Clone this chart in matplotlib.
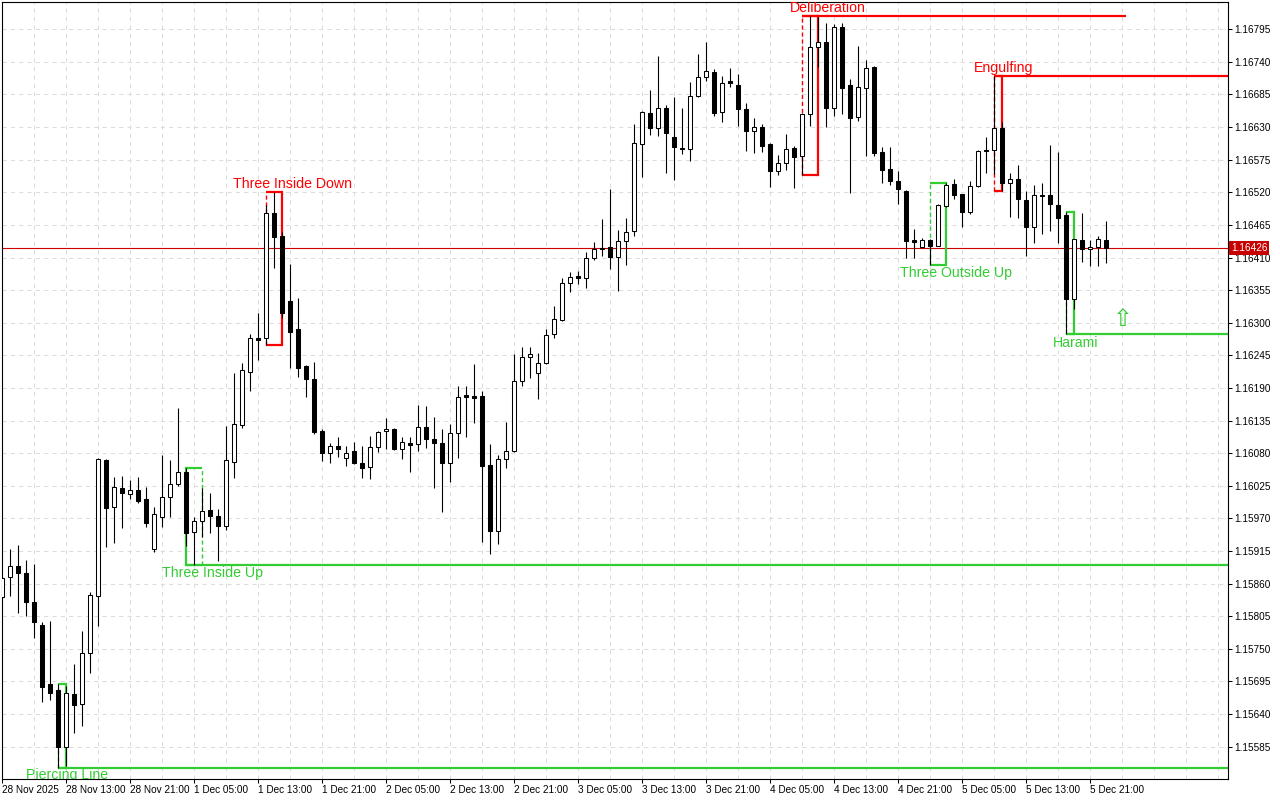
import numpy as np
import matplotlib
matplotlib.use("Agg")
import matplotlib.pyplot as plt
import matplotlib.transforms as mtransforms

# H1 candles, 28 Nov 2025 05:00 .. 5 Dec 2025 23:00
opens = [
    1.15838, 1.15871, 1.15890, 1.15878, 1.15829, 1.15790, 1.15691, 1.15681, 1.15584, 1.15674,
    1.15657, 1.15743, 1.15839, 1.16069, 1.15989, 1.16021, 1.16011, 1.16018, 1.16003, 1.15918,
    1.15972, 1.16006, 1.16028, 1.16048, 1.15947, 1.15966, 1.15984, 1.15974, 1.15957, 1.16065,
    1.16128, 1.16217, 1.16274, 1.16274, 1.16485, 1.16446, 1.16337, 1.16290, 1.16227, 1.16205,
    1.16117, 1.16080, 1.16092, 1.16072, 1.16084, 1.16063, 1.16057, 1.16090, 1.16117, 1.16121,
    1.16087, 1.16097, 1.16096, 1.16124, 1.16104, 1.16097, 1.16063, 1.16114, 1.16178, 1.16176,
    1.16176, 1.16060, 1.15949, 1.16070, 1.16084, 1.16202, 1.16242, 1.16215, 1.16232, 1.16281,
    1.16305, 1.16367, 1.16379, 1.16376, 1.16409, 1.16426, 1.16428, 1.16411, 1.16438, 1.16455,
    1.16602, 1.16654, 1.16629, 1.16662, 1.16613, 1.16595, 1.16593, 1.16682, 1.16715, 1.16723,
    1.16656, 1.16708, 1.16701, 1.16661, 1.16623, 1.16630, 1.16602, 1.16556, 1.16570, 1.16595,
    1.16581, 1.16652, 1.16765, 1.16774, 1.16662, 1.16799, 1.16701, 1.16647, 1.16696, 1.16731,
    1.16588, 1.16560, 1.16539, 1.16522, 1.16440, 1.16428, 1.16440, 1.16430, 1.16497, 1.16534,
    1.16517, 1.16487, 1.16531, 1.16591, 1.16591, 1.16629, 1.16536, 1.16543, 1.16507, 1.16462,
    1.16515, 1.16515, 1.16499, 1.16481, 1.16340, 1.16440, 1.16425, 1.16428, 1.16440,
]
highs = [
    1.15875, 1.15918, 1.15925, 1.15900, 1.15893, 1.15795, 1.15797, 1.15691, 1.15687, 1.15724,
    1.15780, 1.15846, 1.16072, 1.16070, 1.16040, 1.16042, 1.16035, 1.16040, 1.16023, 1.15989,
    1.16077, 1.16069, 1.16156, 1.16055, 1.15972, 1.16021, 1.16013, 1.15986, 1.16126, 1.16215,
    1.16232, 1.16281, 1.16316, 1.16499, 1.16521, 1.16453, 1.16399, 1.16342, 1.16229, 1.16234,
    1.16121, 1.16097, 1.16107, 1.16092, 1.16099, 1.16092, 1.16109, 1.16118, 1.16139, 1.16123,
    1.16107, 1.16107, 1.16161, 1.16160, 1.16141, 1.16121, 1.16129, 1.16193, 1.16193, 1.16230,
    1.16185, 1.16096, 1.16077, 1.16133, 1.16247, 1.16259, 1.16259, 1.16249, 1.16290, 1.16328,
    1.16376, 1.16386, 1.16387, 1.16419, 1.16436, 1.16475, 1.16526, 1.16457, 1.16477, 1.16635,
    1.16657, 1.16693, 1.16750, 1.16667, 1.16681, 1.16662, 1.16706, 1.16753, 1.16774, 1.16728,
    1.16716, 1.16730, 1.16720, 1.16671, 1.16645, 1.16635, 1.16603, 1.16583, 1.16618, 1.16598,
    1.16653, 1.16817, 1.16816, 1.16806, 1.16804, 1.16806, 1.16711, 1.16767, 1.16743, 1.16733,
    1.16596, 1.16596, 1.16556, 1.16524, 1.16458, 1.16443, 1.16441, 1.16500, 1.16536, 1.16543,
    1.16518, 1.16539, 1.16591, 1.16613, 1.16716, 1.16639, 1.16553, 1.16566, 1.16522, 1.16532,
    1.16536, 1.16600, 1.16588, 1.16487, 1.16441, 1.16485, 1.16440, 1.16447, 1.16471,
]
lows = [
    1.15832, 1.15839, 1.15811, 1.15805, 1.15768, 1.15660, 1.15664, 1.15549, 1.15552, 1.15608,
    1.15620, 1.15709, 1.15789, 1.15922, 1.15929, 1.15954, 1.16003, 1.15996, 1.15956, 1.15913,
    1.15956, 1.15972, 1.16025, 1.15923, 1.15891, 1.15939, 1.15945, 1.15898, 1.15950, 1.16038,
    1.16123, 1.16185, 1.16237, 1.16262, 1.16392, 1.16308, 1.16224, 1.16209, 1.16175, 1.16112,
    1.16067, 1.16063, 1.16074, 1.16058, 1.16061, 1.16038, 1.16037, 1.16082, 1.16087, 1.16085,
    1.16070, 1.16048, 1.16084, 1.16089, 1.16021, 1.15981, 1.16031, 1.16072, 1.16107, 1.16131,
    1.15930, 1.15910, 1.15927, 1.16055, 1.16082, 1.16193, 1.16207, 1.16171, 1.16230, 1.16274,
    1.16303, 1.16352, 1.16365, 1.16359, 1.16406, 1.16413, 1.16391, 1.16354, 1.16398, 1.16446,
    1.16546, 1.16617, 1.16615, 1.16553, 1.16541, 1.16585, 1.16573, 1.16680, 1.16708, 1.16649,
    1.16639, 1.16698, 1.16632, 1.16590, 1.16586, 1.16588, 1.16529, 1.16549, 1.16558, 1.16527,
    1.16549, 1.16632, 1.16731, 1.16630, 1.16649, 1.16652, 1.16519, 1.16640, 1.16581, 1.16581,
    1.16536, 1.16532, 1.16500, 1.16409, 1.16409, 1.16426, 1.16398, 1.16429, 1.16496, 1.16509,
    1.16462, 1.16484, 1.16529, 1.16553, 1.16551, 1.16522, 1.16479, 1.16477, 1.16413, 1.16435,
    1.16450, 1.16455, 1.16435, 1.16281, 1.16323, 1.16403, 1.16396, 1.16396, 1.16400,
]
closes = [
    1.15869, 1.15890, 1.15878, 1.15829, 1.15795, 1.15686, 1.15675, 1.15584, 1.15675, 1.15655,
    1.15743, 1.15841, 1.16070, 1.15988, 1.16023, 1.16013, 1.16018, 1.15999, 1.15962, 1.15978,
    1.16006, 1.16028, 1.16048, 1.15945, 1.15966, 1.15982, 1.15974, 1.15957, 1.16069, 1.16129,
    1.16220, 1.16274, 1.16271, 1.16485, 1.16445, 1.16317, 1.16284, 1.16224, 1.16205, 1.16116,
    1.16080, 1.16092, 1.16087, 1.16080, 1.16063, 1.16055, 1.16090, 1.16116, 1.16121, 1.16087,
    1.16099, 1.16094, 1.16124, 1.16104, 1.16097, 1.16063, 1.16114, 1.16175, 1.16175, 1.16173,
    1.16058, 1.15949, 1.16070, 1.16084, 1.16202, 1.16242, 1.16247, 1.16232, 1.16279, 1.16306,
    1.16367, 1.16377, 1.16376, 1.16409, 1.16425, 1.16425, 1.16411, 1.16438, 1.16453, 1.16603,
    1.16656, 1.16629, 1.16662, 1.16620, 1.16596, 1.16593, 1.16682, 1.16715, 1.16725, 1.16654,
    1.16704, 1.16704, 1.16661, 1.16623, 1.16630, 1.16598, 1.16556, 1.16570, 1.16593, 1.16580,
    1.16652, 1.16765, 1.16774, 1.16662, 1.16799, 1.16696, 1.16645, 1.16698, 1.16730, 1.16586,
    1.16558, 1.16539, 1.16526, 1.16438, 1.16436, 1.16440, 1.16430, 1.16499, 1.16532, 1.16515,
    1.16487, 1.16531, 1.16590, 1.16590, 1.16629, 1.16536, 1.16543, 1.16509, 1.16462, 1.16515,
    1.16514, 1.16500, 1.16477, 1.16340, 1.16441, 1.16425, 1.16428, 1.16441, 1.16426,
]

tick_labels = ["28 Nov 2025", "28 Nov 13:00", "28 Nov 21:00", "1 Dec 05:00", "1 Dec 13:00",
               "1 Dec 21:00", "2 Dec 05:00", "2 Dec 13:00", "2 Dec 21:00", "3 Dec 05:00",
               "3 Dec 13:00", "3 Dec 21:00", "4 Dec 05:00", "4 Dec 13:00", "4 Dec 21:00",
               "5 Dec 05:00", "5 Dec 13:00", "5 Dec 21:00"]
current_price = 1.16426

# candlestick patterns found by the indicator
pattern_names = ["Piercing Line", "Three Inside Up", "Three Inside Down", "Deliberation",
                 "Three Outside Up", "Engulfing", "Harami"]
pattern_first = [7, 23, 33, 100, 116, 124, 133]
pattern_last = [8, 25, 35, 102, 118, 125, 134]
pattern_top = [1.15691, 1.16055, 1.16521, 1.16817, 1.16536, 1.16716, 1.16487]
pattern_bottom = [1.15549, 1.15891, 1.16262, 1.16549, 1.16398, 1.16522, 1.16281]
pattern_bull = [True, True, False, False, True, False, True]
pattern_level = [1.15549, 1.15891, None, 1.16817, None, 1.16716, 1.16281]
pattern_level_end = [153.2, 153.2, None, 140.5, None, 153.2, 153.2]
label_x = [8.1, 26.2, 36.2, 103.2, 119.2, 125.2, 134.2]
label_y = [1.15537, 1.15878, 1.16534, 1.16831, 1.16384, 1.16730, 1.16266]
dashed_side = ["left", "right", "left", "left", "left", "left", "left"]

RED = "#ff0000"
GREEN = "#32cd32"

plt.rcParams['font.family'] = ['Liberation Sans', 'DejaVu Sans']

fig = plt.figure(figsize=(12.8, 8), dpi=100)
ax = fig.add_axes([2 / 1280, 21 / 800, 1226 / 1280, 777 / 800])

x = np.arange(len(opens))
o = np.array(opens)
h = np.array(highs)
l = np.array(lows)
c = np.array(closes)
up = c > o

# candles
ax.vlines(x, l, h, color="black", linewidth=0.8, zorder=3)
ax.bar(x, np.abs(c - o), bottom=np.minimum(o, c), width=0.5,
       color=np.where(up, "white", "black"), edgecolor="black", linewidth=0.75, zorder=4)

# current price line
ax.axhline(current_price, color="#d00000", linewidth=0.8, zorder=1.5)

# pattern boxes, levels and labels
for k in range(len(pattern_names)):
    col = GREEN if pattern_bull[k] else RED
    xa, xb = pattern_first[k], pattern_last[k]
    top, bot = pattern_top[k], pattern_bottom[k]
    ax.plot([xa, xb], [top, top], color=col, lw=1.6, zorder=2, solid_capstyle="butt")
    ax.plot([xa, xb], [bot, bot], color=col, lw=1.6, zorder=2, solid_capstyle="butt")
    xs, xd = (xb, xa) if dashed_side[k] == "left" else (xa, xb)
    ax.plot([xs, xs], [bot, top], color=col, lw=1.6, zorder=2)
    ax.plot([xd, xd], [bot, top], color=col, lw=1.0, linestyle=(0, (3, 2)), zorder=2)
    if pattern_level[k] is not None:
        ax.plot([xa, pattern_level_end[k]], [pattern_level[k]] * 2, color=col, lw=1.6,
                zorder=2, solid_capstyle="butt")
    ax.text(label_x[k], label_y[k], pattern_names[k], color=col, fontsize=10.2,
            ha="center", va="center", zorder=6, clip_on=True)

# buy arrow
ax.text(140, 1.16306, "\u21e7", color=GREEN, fontsize=17, ha="center", va="center",
        family="DejaVu Sans", zorder=6)

# axes
ax.set_xlim(-0.06, 153.19)
ax.set_ylim(1.155305, 1.16841)

ax.set_xticks(np.arange(0, 137, 8))
ax.set_xticklabels(tick_labels)
plt.setp(ax.get_xticklabels(), ha="left")
ax.set_xticks(np.arange(0, 154, 4), minor=True)

yt = 1.15585 + 0.00055 * np.arange(23)
ax.yaxis.tick_right()
ax.set_yticks(yt)
ax.set_yticklabels([f"{v:.5f}" for v in yt])

ax.tick_params(axis="both", which="major", labelsize=7.2, length=3, width=0.75,
               color="black", pad=1.5)
ax.tick_params(axis="x", which="minor", length=0)
ax.grid(True, axis="x", which="both", color="#dcdcdc", linestyle=(0, (4, 4)), linewidth=0.75,
        zorder=0)
ax.grid(True, axis="y", which="major", color="#dcdcdc", linestyle=(0, (4, 4)), linewidth=0.75,
        zorder=0)
ax.set_axisbelow(True)
for sp in ax.spines.values():
    sp.set_linewidth(0.8)
    sp.set_color("black")

# current price tag on the right scale
trans = mtransforms.blended_transform_factory(ax.transAxes, ax.transData)
ax.text(1.0 + 3 / 1226, current_price, f"{current_price:.5f}", transform=trans,
        color="white", fontsize=7.2, ha="left", va="center", zorder=10, clip_on=False,
        bbox=dict(facecolor="#c80000", edgecolor="none", pad=1.4))

fig.savefig("out.png", dpi=100)
